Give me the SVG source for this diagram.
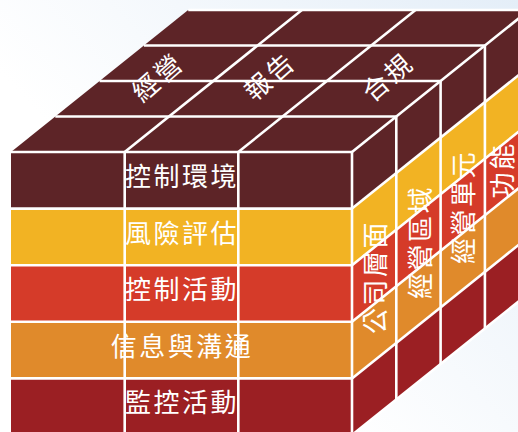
<svg xmlns="http://www.w3.org/2000/svg" width="518" height="432" viewBox="0 0 518 432">
  <defs>
    <linearGradient id="bg" x1="0.3" y1="0.55" x2="1" y2="0">
      <stop offset="0" stop-color="#ffffff"/>
      <stop offset="1" stop-color="#e4eef8"/>
    </linearGradient>
    <style>
      .brown{fill:#5d2427}
      .yellow{fill:#f2b323}
      .red{fill:#d53b29}
      .orange{fill:#e08a2b}
      .dred{fill:#9b1f23}
      .ln{stroke:#ffffff;stroke-width:2.6;fill:none;stroke-linecap:butt}
      .t{font-family:"Noto Sans CJK TC","Noto Sans CJK SC",sans-serif;fill:#ffffff;font-size:26px;letter-spacing:2.5px;text-anchor:middle}
      .tt{font-family:"Noto Sans CJK TC","Noto Sans CJK SC",sans-serif;fill:#ffffff;font-size:26px;letter-spacing:3px;text-anchor:middle}
    </style>
  </defs>
  <rect x="0" y="0" width="518" height="432" fill="url(#bg)"/>

  <g id="top-face">
    <polygon class="brown" points="11,152 352,152 529.2,10 188.2,10"/>
  </g>

  <g id="front-face">
    <g id="row-control-environment">
      <rect class="brown" x="11" y="152" width="341" height="56.6"/>
      <text class="t" x="182" y="186">控制環境</text>
    </g>
    <g id="row-risk-assessment">
      <rect class="yellow" x="11" y="208.6" width="341" height="56.6"/>
      <text class="t" x="182" y="242.6">風險評估</text>
    </g>
    <g id="row-control-activities">
      <rect class="red" x="11" y="265.2" width="341" height="56.6"/>
      <text class="t" x="182" y="299.2">控制活動</text>
    </g>
    <g id="row-information">
      <rect class="orange" x="11" y="321.8" width="341" height="56.6"/>
      <text class="t" x="182" y="355.8">信息與溝通</text>
    </g>
    <g id="row-monitoring">
      <rect class="dred" x="11" y="378.4" width="341" height="56.6"/>
      <text class="t" x="182" y="412.4">監控活動</text>
    </g>
  </g>

  <g id="side-face">
    <polygon class="brown" points="352,152 529.2,10 529.2,66.6 352,208.6"/>
    <polygon class="yellow" points="352,208.6 529.2,66.6 529.2,123.2 352,265.2"/>
    <polygon class="red" points="352,265.2 529.2,123.2 529.2,179.8 352,321.8"/>
    <polygon class="orange" points="352,321.8 529.2,179.8 529.2,236.4 352,378.4"/>
    <polygon class="dred" points="352,378.4 529.2,236.4 529.2,293 352,435"/>
  </g>

  <g id="connectors">
    <line class="ln" x1="11" y1="152" x2="352" y2="152"/>
    <line class="ln" x1="11" y1="208.6" x2="352" y2="208.6"/>
    <line class="ln" x1="11" y1="265.2" x2="352" y2="265.2"/>
    <line class="ln" x1="11" y1="321.8" x2="352" y2="321.8"/>
    <line class="ln" x1="11" y1="378.4" x2="352" y2="378.4"/>
    <line class="ln" x1="124.7" y1="152" x2="124.7" y2="436"/>
    <line class="ln" x1="238.3" y1="152" x2="238.3" y2="436"/>
    <line class="ln" x1="352" y1="152" x2="352" y2="436"/>
    <line class="ln" x1="55.3" y1="116.5" x2="396.3" y2="116.5"/>
    <line class="ln" x1="99.6" y1="81" x2="440.6" y2="81"/>
    <line class="ln" x1="143.9" y1="45.5" x2="484.9" y2="45.5"/>
    <line class="ln" x1="188.2" y1="10" x2="529.2" y2="10"/>
    <line class="ln" x1="124.7" y1="152" x2="301.9" y2="10"/>
    <line class="ln" x1="238.3" y1="152" x2="415.5" y2="10"/>
    <line class="ln" x1="352" y1="152" x2="529.2" y2="10"/>
    <line class="ln" x1="352" y1="208.6" x2="529.2" y2="66.6"/>
    <line class="ln" x1="352" y1="265.2" x2="529.2" y2="123.2"/>
    <line class="ln" x1="352" y1="321.8" x2="529.2" y2="179.8"/>
    <line class="ln" x1="352" y1="378.4" x2="529.2" y2="236.4"/>
    <line class="ln" x1="352" y1="435" x2="529.2" y2="293"/>
    <line class="ln" x1="396.3" y1="116.5" x2="396.3" y2="399.5"/>
    <line class="ln" x1="440.6" y1="81" x2="440.6" y2="364"/>
    <line class="ln" x1="484.9" y1="45.5" x2="484.9" y2="328.5"/>
  </g>

  <g id="top-labels">
    <g id="label-operations"><text class="tt" transform="translate(158,77) rotate(-41)" y="9.5">經營</text></g>
    <g id="label-reporting"><text class="tt" transform="translate(270,76) rotate(-41)" y="9.5">報告</text></g>
    <g id="label-compliance"><text class="tt" transform="translate(388,77) rotate(-41)" y="9.5">合規</text></g>
  </g>

  <g id="side-labels">
    <g id="label-entity"><text class="t" transform="translate(385,277) rotate(-90)">公司層面</text></g>
    <g id="label-division"><text class="t" transform="translate(430,242) rotate(-90)">經營區域</text></g>
    <g id="label-unit"><text class="t" transform="translate(473,207) rotate(-90)">經營單元</text></g>
    <g id="label-function"><text class="t" transform="translate(512,170) rotate(-90)">功能</text></g>
  </g>
</svg>
